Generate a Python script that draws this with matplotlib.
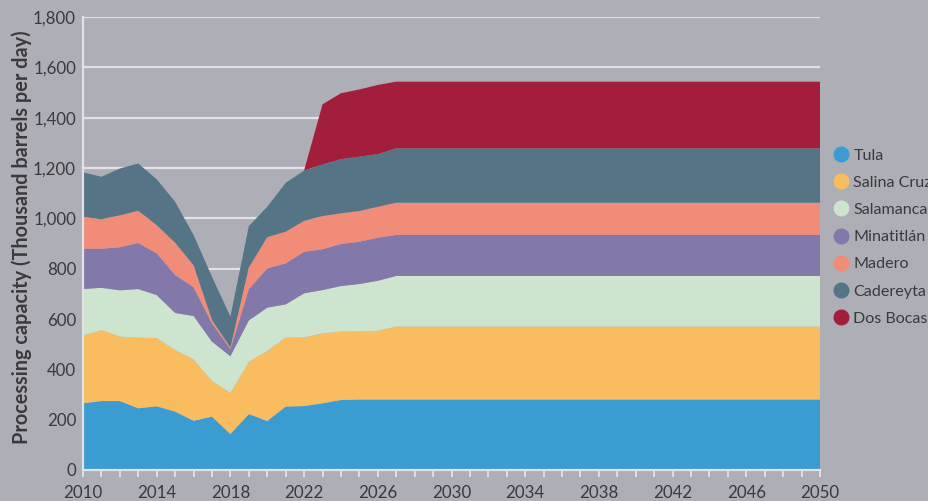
import matplotlib
matplotlib.use("Agg")
import matplotlib.pyplot as plt
from matplotlib.lines import Line2D
import matplotlib.ticker as mtick

plt.rcParams['font.family'] = ['Lato', 'DejaVu Sans']

# years (flat from 2027 to 2050)
years = [2010, 2011, 2012, 2013, 2014, 2015, 2016, 2017, 2018, 2019,
         2020, 2021, 2022, 2023, 2024, 2025, 2026, 2027, 2050]

tula = [265, 274, 274, 245, 253, 232, 196, 212, 143, 222,
        195, 252, 254, 265, 278, 280, 280, 280, 280]
salina_cruz = [269, 282, 256, 281, 271, 245, 244, 142, 163, 208,
               278, 274, 273, 278, 272, 271, 273, 290, 290]
salamanca = [185, 168, 184, 193, 171, 147, 172, 156, 146, 164,
             172, 132, 175, 172, 181, 188, 199, 201, 201]
minatitlan = [160, 155, 171, 183, 166, 151, 114, 73, 28, 124,
              156, 163, 165, 162, 167, 168, 171, 163, 163]
madero = [127, 117, 127, 128, 112, 128, 88, 13, 7, 87,
          124, 126, 123, 132, 122, 122, 123, 128, 128]
cadereyta = [177, 169, 186, 188, 182, 163, 120, 172, 123, 164,
             121, 194, 200, 205, 215, 216, 209, 216, 216]
dos_bocas = [0, 0, 0, 0, 0, 0, 0, 0, 0, 0,
             0, 0, 0, 239, 262, 267, 275, 265, 265]

names = ['Tula', 'Salina Cruz', 'Salamanca', 'Minatitlán', 'Madero',
         'Cadereyta', 'Dos Bocas']
colors = ['#3b9cd2', '#f9bd5f', '#cde4cf', '#8278aa', '#f08c77',
          '#557586', '#a31e3a']

bg = '#aeaeb6'
txt = '#3a3a3e'

fig = plt.figure(figsize=(9.29, 5.01), dpi=100, facecolor=bg)
ax = fig.add_axes([83 / 929, 31 / 501, 737 / 929, 453 / 501])
ax.set_facecolor(bg)

ax.stackplot(years, tula, salina_cruz, salamanca, minatitlan, madero,
             cadereyta, dos_bocas, colors=colors, linewidth=0, zorder=3)

ax.set_xlim(2010, 2050)
ax.set_ylim(0, 1800)
ax.set_yticks(range(0, 1801, 200))
ax.yaxis.set_major_formatter(mtick.StrMethodFormatter('{x:,.0f}'))
ax.set_xticks(range(2010, 2051, 4))
ax.set_xticks(range(2010, 2051, 1), minor=True)

ax.grid(axis='y', color='#e2e2e6', linewidth=1.6, zorder=1)
ax.grid(axis='x', visible=False)
for s in ['top', 'right']:
    ax.spines[s].set_visible(False)
for s in ['left', 'bottom']:
    ax.spines[s].set_color('#e2e2e6')
    ax.spines[s].set_linewidth(1.6)
    ax.spines[s].set_zorder(4)

ax.tick_params(axis='y', length=0, pad=5, labelsize=12.2, labelcolor=txt)
ax.tick_params(axis='x', which='both', length=5, width=1.3, color='#e2e2e6',
               pad=6, labelsize=12.2, labelcolor=txt)

ax.set_ylabel('Processing capacity (Thousand barrels per day)',
              fontsize=14.3, fontweight='bold', color=txt)
ax.yaxis.set_label_coords(-0.0692, 0.515)

handles = [Line2D([], [], marker='o', linestyle='', markersize=10.5,
                  markerfacecolor=c, markeredgecolor=c) for c in colors]
fig.legend(handles, names, loc='upper left',
           bbox_to_anchor=(822 / 929, 1 - 142 / 501), frameon=False,
           fontsize=11.6, labelcolor=txt, handletextpad=0.05,
           labelspacing=0.8, borderaxespad=0, handlelength=1.5)

fig.savefig('out.png', dpi=100, facecolor=bg)
